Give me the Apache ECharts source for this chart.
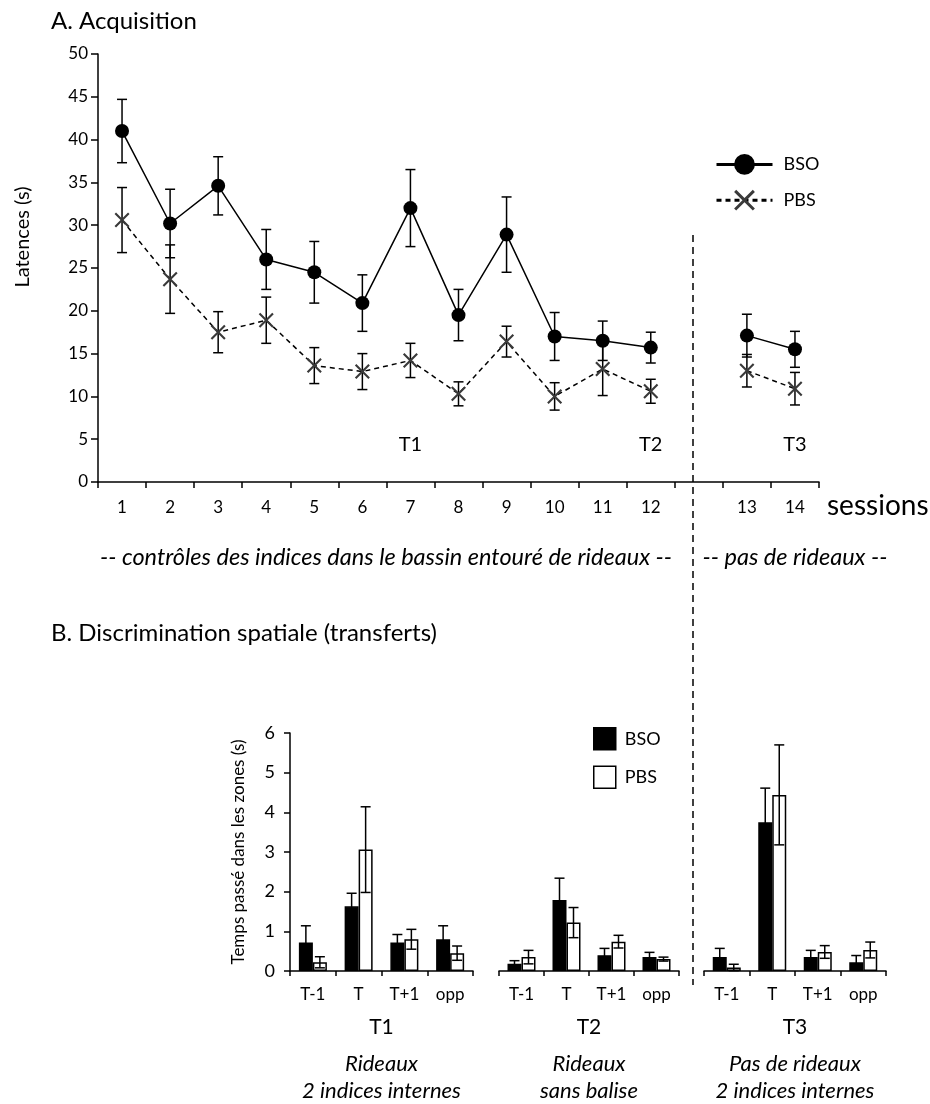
<!DOCTYPE html>
<html>
<head>
<meta charset="utf-8">
<script src="https://cdn.jsdelivr.net/npm/echarts@6/dist/echarts.min.js"></script>
<style>
    html, body { margin: 0; padding: 0; background: #fff; }
    #chart { width: 930px; height: 1104px; }
</style>
</head>
<body>
<div id="chart"></div>
<script>
// panel A: latencies per session (blank slot = break between 12 and 13)
const sessions = ['1', '2', '3', '4', '5', '6', '7', '8', '9', '10', '11', '12', '', '13', '14'];
const bsoMean = [41.0, 30.2, 34.6, 26.0, 24.5, 20.9, 32.0, 19.5, 28.9, 17.0, 16.5, 15.7, null, 17.1, 15.5];
const bsoErr = [3.7, 4.0, 3.4, 3.5, 3.6, 3.3, 4.5, 3.0, 4.4, 2.8, 2.3, 1.8, null, 2.5, 2.1];
const pbsMean = [30.6, 23.7, 17.5, 18.9, 13.6, 12.9, 14.2, 10.3, 16.4, 10.0, 13.2, 10.6, null, 13.0, 10.9];
const pbsErr = [3.8, 4.0, 2.4, 2.7, 2.1, 2.1, 2.0, 1.4, 1.8, 1.6, 3.1, 1.4, null, 1.9, 1.9];
const yTicksA = [0, 50, 5];
const trialSessions = ['7', '12', '14'];
const trialNames = ['T1', 'T2', 'T3'];

// panel B: time spent in zones, one block per transfer
const zones = ['T-1', 'T', 'T+1', 'opp'];
const groupNames = ['T1', 'T2', 'T3'];
const groupLines = [
    ['Rideaux', '2 indices internes'],
    ['Rideaux', 'sans balise'],
    ['Pas de rideaux', '2 indices internes'],
];
const bsoBars = [
    [0.72, 1.63, 0.72, 0.80],
    [0.18, 1.79, 0.40, 0.35],
    [0.35, 3.75, 0.35, 0.22],
];
const bsoBarsErr = [
    [0.42, 0.33, 0.20, 0.34],
    [0.08, 0.55, 0.17, 0.12],
    [0.22, 0.86, 0.17, 0.17],
];
const pbsBars = [
    [0.22, 3.06, 0.80, 0.45],
    [0.35, 1.22, 0.74, 0.30],
    [0.09, 4.44, 0.48, 0.53],
];
const pbsBarsErr = [
    [0.14, 1.08, 0.25, 0.18],
    [0.17, 0.38, 0.16, 0.05],
    [0.08, 1.26, 0.16, 0.20],
];
const yTicksB = [0, 6, 1];

const font = 'Lato, "Open Sans", sans-serif';
const crossPath = 'path://M1,0 L5,4 L9,0 L10,1 L6,5 L10,9 L9,10 L5,6 L1,10 L0,9 L4,5 L0,1 Z';
const barW = 14;
const black = '#000';

function errorSeries(xi, yi, means, errs, shift, z) {
    const rows = [];
    means.forEach((m, i) => {
        if (m != null) rows.push([i, m - errs[i], m + errs[i]]);
    });
    return {
        type: 'custom', xAxisIndex: xi, yAxisIndex: yi, z: z, silent: true,
        data: rows,
        encode: { x: 0, y: [1, 2] },
        renderItem: (params, api) => {
            const lo = api.coord([api.value(0), api.value(1)]);
            const hi = api.coord([api.value(0), api.value(2)]);
            const x = lo[0] + shift;
            const style = { stroke: black, lineWidth: 1.5 };
            return {
                type: 'group', children: [
                    { type: 'line', shape: { x1: x, y1: lo[1], x2: x, y2: hi[1] }, style },
                    { type: 'line', shape: { x1: x - 5, y1: hi[1], x2: x + 5, y2: hi[1] }, style },
                    { type: 'line', shape: { x1: x - 5, y1: lo[1], x2: x + 5, y2: lo[1] }, style },
                ],
            };
        },
    };
}

const axisLine = { show: true, lineStyle: { color: black, width: 1.5 } };
const labelStyle = { color: black, fontFamily: font };
const titleStyle = { fontSize: 24, fontWeight: 'normal', color: black, fontFamily: font };

const grids = [
    { left: 98, top: 54, width: 721, height: 428 },
    { left: 290, top: 733, width: 183, height: 238 },
    { left: 499, top: 733, width: 180, height: 238 },
    { left: 704, top: 733, width: 182, height: 238 },
];

const xAxes = [{
    type: 'category', gridIndex: 0, data: sessions,
    axisLine: axisLine,
    axisTick: { show: true, interval: 0, length: 6, lineStyle: { color: black, width: 1.5 } },
    axisLabel: Object.assign({ interval: 0, margin: 17, fontSize: 17 }, labelStyle),
    name: 'sessions', nameLocation: 'end', nameGap: 8,
    nameTextStyle: Object.assign({ fontSize: 28, verticalAlign: 'top', padding: [10, 0, 0, 0] }, labelStyle),
}];
const yAxes = [{
    type: 'value', gridIndex: 0, min: yTicksA[0], max: yTicksA[1], interval: yTicksA[2],
    axisLine: axisLine,
    axisTick: { show: true, length: 7, lineStyle: { color: black, width: 1.5 } },
    axisLabel: Object.assign({ margin: 10, fontSize: 17 }, labelStyle),
    splitLine: { show: false },
    name: 'Latences (s)', nameLocation: 'middle', nameGap: 65,
    nameTextStyle: Object.assign({ fontSize: 20, padding: [0, 0, 0, 62] }, labelStyle),
}];

groupNames.forEach((g, k) => {
    xAxes.push({
        type: 'category', gridIndex: k + 1, data: zones,
        axisLine: axisLine,
        axisTick: { show: true, interval: 0, length: 5, lineStyle: { color: black, width: 1.5 } },
        axisLabel: Object.assign({ interval: 0, margin: 15, fontSize: 17 }, labelStyle),
        name: `{g|${g}}\n{d|${groupLines[k][0]}}\n{d|${groupLines[k][1]}}`,
        nameLocation: 'middle', nameGap: 34,
        nameTextStyle: {
            rich: {
                g: { fontSize: 21, lineHeight: 45, fontFamily: font, color: black },
                d: { fontSize: 22, lineHeight: 27, fontStyle: 'italic', fontFamily: font, color: black },
            },
        },
    });
    yAxes.push({
        type: 'value', gridIndex: k + 1, min: yTicksB[0], max: yTicksB[1], interval: yTicksB[2],
        show: k === 0,
        axisLine: axisLine,
        axisTick: { show: true, length: 6, lineStyle: { color: black, width: 1.5 } },
        axisLabel: Object.assign({ margin: 15, fontSize: 18 }, labelStyle),
        splitLine: { show: false },
        name: k === 0 ? 'Temps passé dans les zones (s)' : '',
        nameLocation: 'middle', nameGap: 43,
        nameTextStyle: Object.assign({ fontSize: 17 }, labelStyle),
    });
});

const series = [
    {
        name: 'BSO', type: 'line', xAxisIndex: 0, yAxisIndex: 0, data: bsoMean, z: 4,
        symbol: 'circle', symbolSize: 14, connectNulls: false,
        itemStyle: { color: black },
        lineStyle: { color: black, width: 1.5 },
        markPoint: {
            symbol: 'circle', symbolSize: 1, itemStyle: { color: 'rgba(0,0,0,0)' },
            label: { show: true, formatter: '{b}', fontSize: 20, color: black, fontFamily: font },
            data: trialSessions.map((s, i) => ({ name: trialNames[i], coord: [s, 4.4] })),
        },
    },
    {
        name: 'PBS', type: 'line', xAxisIndex: 0, yAxisIndex: 0, data: pbsMean, z: 4,
        symbol: crossPath, symbolSize: 15, connectNulls: false,
        itemStyle: { color: '#3a3a3a' },
        lineStyle: { color: black, width: 1.5, type: [5, 4] },
    },
    errorSeries(0, 0, bsoMean, bsoErr, 0, 2),
    errorSeries(0, 0, pbsMean, pbsErr, 0, 2),
];

groupNames.forEach((g, k) => {
    series.push({
        name: 'BSO', type: 'bar', xAxisIndex: k + 1, yAxisIndex: k + 1,
        data: bsoBars[k], barWidth: barW, barGap: '0%',
        itemStyle: { color: black, borderColor: black, borderWidth: 1.5 },
    });
    series.push({
        name: 'PBS', type: 'bar', xAxisIndex: k + 1, yAxisIndex: k + 1,
        data: pbsBars[k], barWidth: barW, barGap: '0%',
        itemStyle: { color: '#fff', borderColor: black, borderWidth: 1.5 },
    });
    series.push(errorSeries(k + 1, k + 1, bsoBars[k], bsoBarsErr[k], -barW / 2, 6));
    series.push(errorSeries(k + 1, k + 1, pbsBars[k], pbsBarsErr[k], barW / 2, 6));
});

const chart = echarts.init(document.getElementById('chart'));
chart.setOption({
    animation: false,
    backgroundColor: '#fff',
    textStyle: { fontFamily: font },
    title: [
        { text: 'A. Acquisition', left: 46, top: 4, textStyle: titleStyle },
        { text: 'B. Discrimination spatiale (transferts)', left: 46, top: 616, textStyle: titleStyle },
    ],
    legend: [
        {
            data: ['BSO', 'PBS'], orient: 'vertical', left: 715, top: 154, padding: 0,
            itemWidth: 56, itemHeight: 26, itemGap: 15, selectedMode: false,
            lineStyle: { width: 3 },
            textStyle: { fontSize: 18, color: black, fontFamily: font, padding: [0, 0, 0, 6] },
        },
        {
            data: [
                { name: 'BSO', icon: 'rect', itemStyle: { color: black, borderColor: black, borderWidth: 1.5 } },
                { name: 'PBS', icon: 'rect', itemStyle: { color: '#fff', borderColor: black, borderWidth: 1.5 } },
            ],
            orient: 'vertical', left: 593, top: 727, padding: 0,
            itemWidth: 22, itemHeight: 22, itemGap: 15, selectedMode: false,
            textStyle: { fontSize: 18, color: black, fontFamily: font, padding: [0, 0, 0, 4] },
        },
    ],
    grid: grids,
    xAxis: xAxes,
    yAxis: yAxes,
    series: series,
    graphic: [
        {
            type: 'line', silent: true,
            shape: { x1: 693, y1: 235, x2: 693, y2: 985 },
            style: { stroke: black, lineWidth: 1.5, lineDash: [7, 5] },
        },
        {
            type: 'text', x: 386, y: 557, silent: true,
            style: { text: '-- contrôles des indices dans le bassin entouré de rideaux --', fontSize: 23.5, fontStyle: 'italic', fontFamily: font, fill: black, align: 'center', verticalAlign: 'middle' },
        },
        {
            type: 'text', x: 795, y: 557, silent: true,
            style: { text: '-- pas de rideaux --', fontSize: 23.5, fontStyle: 'italic', fontFamily: font, fill: black, align: 'center', verticalAlign: 'middle' },
        },
    ],
});
</script>
</body>
</html>
